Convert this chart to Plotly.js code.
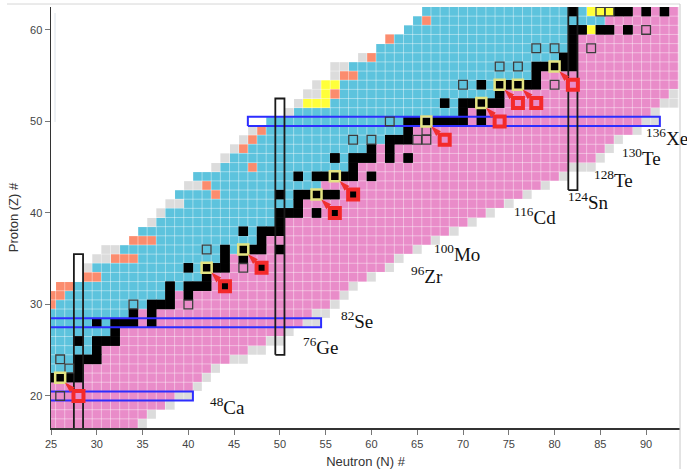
<!DOCTYPE html>
<html><head><meta charset="utf-8">
<script src="https://cdn.plot.ly/plotly-3.0.1.min.js"></script>
<style>html,body{margin:0;padding:0;background:#fff}#chart{width:687px;height:469px}</style>
</head><body><div id="chart"></div>
<script>
// ---- data ----
const protonZ   = [17,18,19,20,21,22,23,24,25,26,27,28,29,30,31,32,33,34,35,36,37,38,39,40,41,42,43,44,45,46,47,48,49,50,51,52,53,54,55,56,57,58,59,60,61,62];
const firstBlue = [25,25,25,25,25,25,25,25,25,25,25,25,25,26,27,28,31,30,35,33,37,35,37,38,40,39,43,41,44,45,47,48,49,49,52,56,57,57,59,58,61,61,63,64,65,66];
const lastBlue  = [24,24,24,24,24,24,27,27,29,29,31,31,33,35,37,39,41,41,43,45,47,47,49,49,51,51,54,53,57,57,59,61,63,63,69,69,73,73,77,77,80,81,81,81,85,83];
const lastPink  = [34,35,37,38,40,41,42,44,46,48,50,52,53,55,56,57,59,61,62,64,66,68,70,72,74,76,78,80,81,84,85,86,88,89,90,91,92,93,93,93,93,93,93,93,93,93];
const lastGrey  = [35,36,38,40,41,42,43,46,48,50,51,54,55,56,57,58,60,62,63,65,67,69,71,73,75,77,79,81,84,85,86,87,89,91,91,93,93,93,93,93,93,93,93,93,93,93];
const stableN = [[],[],[],[],[],[25,26,27,28],[28],[28,29,30],[30],[28,30,31,32],[32],[30,32,33,34,36],[34,36],[36,37,38],[38,40],[38,40,41,42,44],[42],[40,42,43,44,48],[44,46],[44,46,47,48,50],[48],[46,48,49,50],[50],[50,51,52,54,56],[52],[50,52,53,54,55,56,58],[],[52,54,55,56,57,58,60],[58],[56,58,59,60,62,64],[60,62],[62,63,64],[64],[64,65,66,67,68,69,70,72],[70,72],[68,70,71,72,73,74],[74],[72,74,75,76,77,78],[78],[78,79,80,81,82],[81,82],[82],[82],[82,83,85,86,88],[],[82,87,88,90,92]];
const greyEdge    = [[29,34],[30,35],[31,35],[31,36],[32,36],[36,39],[37,40],[38,41],[39,41],[40,43],[41,43],[43,45],[44,46],[45,47],[46,48],[47,49],[51,51],[52,52],[53,53],[54,53],[54,54],[56,55],[56,56],[57,56],[59,57]];
const orangeCells = [[25,30],[25,31],[26,31],[26,32],[27,32],[29,33],[30,33],[32,35],[33,35],[34,35],[34,37],[35,37],[36,37],[43,42],[42,43],[47,45],[46,47],[47,48],[48,49],[56,53],[57,55],[58,55],[60,57],[62,59],[66,61]];
const yellowCells = [[53,52],[54,52],[55,52],[55,53],[55,54],[56,54],[84,60],[84,62],[85,62],[86,62]];
const hollowCells = [[26,20],[27,23],[26,24],[34,30],[40,30],[46,34],[42,36],[58,48],[60,48],[65,48],[66,48],[66,49],[62,50],[70,54],[80,54],[74,56],[76,56],[78,58],[80,58],[84,58],[90,60],[85,62],[86,62]];
const bbParents   = [[28,20],[44,32],[48,34],[56,40],[58,42],[68,48],[74,50],[76,52],[78,52],[82,54]];
const bbDaughters = [[26,22],[42,34],[46,36],[54,42],[56,44],[66,50],[72,52],[74,54],[76,54],[80,56]];
const isotopeLabels = ['<sup>48</sup>Ca','<sup>76</sup>Ge','<sup>82</sup>Se','<sup>96</sup>Zr','<sup>100</sup>Mo','<sup>116</sup>Cd','<sup>124</sup>Sn','<sup>128</sup>Te','<sup>130</sup>Te','<sup>136</sup>Xe'];
const labelN = [42.15,52.3,56.45,64.1,66.6,75.4,81.2,84.1,87.2,89.8];
const labelZ = [18.9,25.5,28.35,33.25,35.6,39.7,41.3,43.7,46.15,48.25];
const magicRows = [20,28,50];
const magicRowSpan = [[25,40],[25,54],[47,91]];
const magicCols = [28,50,82];
const magicColSpan = [[16,35],[25,52],[43,63]];
const xTicks = [25,30,35,40,45,50,55,60,65,70,75,80,85,90];
const yTicks = [20,30,40,50,60];

// ---- build ----
const Ncols = []; for (let n = 25; n <= 93; n++) Ncols.push(n);
const zMatrix = protonZ.map((Z, i) => Ncols.map(N => {
  if (N >= firstBlue[i] && N <= lastBlue[i]) return 1;
  if (N > lastBlue[i] && N >= firstBlue[i] && N <= lastPink[i]) return 2;
  if (N > lastPink[i] && N <= lastGrey[i]) return 3;
  return null;
}));
function setCell(N, Z, c) { const i = protonZ.indexOf(Z), j = Ncols.indexOf(N); if (i >= 0 && j >= 0) zMatrix[i][j] = c; }
greyEdge.forEach(([N, Z]) => setCell(N, Z, 3));
orangeCells.forEach(([N, Z]) => setCell(N, Z, 4));
yellowCells.forEach(([N, Z]) => setCell(N, Z, 5));
const blackX = [], blackY = [];
protonZ.forEach((Z, i) => stableN[i].forEach(N => { setCell(N, Z, 6); blackX.push(N); blackY.push(Z); }));
bbDaughters.forEach(([N, Z]) => { setCell(N, Z, 6); });

const catColors = ['#5dc3dd', '#e98cc9', '#dcdcdc', '#fb8c6e', '#ffff3a', '#000000'];
const colorscale = [];
catColors.forEach((c, k) => { colorscale.push([k / 6, c]); colorscale.push([(k + 1) / 6, c]); });

const gx = [], gy = [];
for (let n = 25; n <= 93; n++) { gx.push(n + 0.5, n + 0.5, null); gy.push(16.5, 62.5, null); }
for (let z = 17; z <= 61; z++) { gx.push(25, 93.7, null); gy.push(z + 0.5, z + 0.5, null); }

const rbx = [], rby = [];
magicRows.forEach((Z, k) => { const [a, b] = magicRowSpan[k];
  rbx.push(a - 0.5, b + 0.5, b + 0.5, a - 0.5, a - 0.5, null); rby.push(Z - 0.5, Z - 0.5, Z + 0.5, Z + 0.5, Z - 0.5, null); });
const rkx = [], rky = [];
magicCols.forEach((N, k) => { const [a, b] = magicColSpan[k];
  rkx.push(N - 0.5, N + 0.5, N + 0.5, N - 0.5, N - 0.5, null); rky.push(a - 0.5, a - 0.5, b + 0.5, b + 0.5, a - 0.5, null); });

// decay arrows: from each parent cell corner to its daughter cell corner
const ax = [], ay = [], hx = [], hy = [];
bbParents.forEach((p, k) => { const d = bbDaughters[k];
  ax.push(p[0] - 0.6, d[0] + 0.75, null); ay.push(p[1] + 0.6, d[1] - 0.75, null);
  hx.push(d[0] + 0.52); hy.push(d[1] - 0.52); });

const traces = [
  {type: 'heatmap', x: Ncols, y: protonZ, z: zMatrix, zmin: 0.5, zmax: 6.5, colorscale: colorscale, showscale: false, hoverinfo: 'skip'},
  {type: 'scatter', mode: 'lines', x: gx, y: gy, line: {color: 'rgba(255,255,255,0.42)', width: 1}, hoverinfo: 'skip'},
  {type: 'scatter', mode: 'markers', x: blackX.concat(bbDaughters.map(d => d[0])), y: blackY.concat(bbDaughters.map(d => d[1])),
   marker: {symbol: 'square', size: 9.6, color: '#000', line: {width: 0}}, hoverinfo: 'skip'},
  {type: 'scatter', mode: 'lines', x: rbx, y: rby, line: {color: '#2d2dff', width: 2}, hoverinfo: 'skip'},
  {type: 'scatter', mode: 'lines', x: rkx, y: rky, line: {color: '#1a1a1a', width: 1.8}, hoverinfo: 'skip'},
  {type: 'scatter', mode: 'markers', x: hollowCells.map(d => d[0]), y: hollowCells.map(d => d[1]),
   marker: {symbol: 'square-open', size: 8.7, color: '#3c3c3c', line: {width: 1.3, color: '#3c3c3c'}}, hoverinfo: 'skip'},
  {type: 'scatter', mode: 'markers', x: bbDaughters.map(d => d[0]), y: bbDaughters.map(d => d[1]),
   marker: {symbol: 'square-open', size: 10, color: '#e4e482', line: {width: 2.5, color: '#e4e482'}}, hoverinfo: 'skip'},
  {type: 'scatter', mode: 'markers', x: bbParents.map(d => d[0]), y: bbParents.map(d => d[1]),
   marker: {symbol: 'square-open', size: 10, color: '#f42a2a', line: {width: 4, color: '#f42a2a'}}, hoverinfo: 'skip'},
  {type: 'scatter', mode: 'lines', x: ax, y: ay, line: {color: '#f03030', width: 2}, hoverinfo: 'skip'},
  {type: 'scatter', mode: 'markers', x: hx, y: hy, marker: {symbol: 'arrow', size: 11, angle: -45, color: '#f03030', line: {width: 0}}, hoverinfo: 'skip'}
];

const annotations = [];
isotopeLabels.forEach((t, k) => annotations.push({x: labelN[k], y: labelZ[k], xref: 'x', yref: 'y', text: t, showarrow: false,
  xanchor: 'left', yanchor: 'middle', font: {family: 'Liberation Serif, DejaVu Serif, serif', size: 19, color: '#111'}}));

const layout = {
  width: 687, height: 469, margin: {l: 51, r: 7, t: 7, b: 41},
  paper_bgcolor: '#fff', plot_bgcolor: '#fff', showlegend: false,
  xaxis: {range: [25, 93.7], tickvals: xTicks, ticks: 'outside', ticklen: 5, tickcolor: '#777', showgrid: false, zeroline: false,
    showline: true, linecolor: '#333', linewidth: 1.5, tickfont: {family: 'Liberation Sans, Arial, sans-serif', size: 11, color: '#444'},
    title: {text: 'Neutron (N) #', font: {family: 'Liberation Sans, Arial, sans-serif', size: 13, color: '#333'}, standoff: 8}, fixedrange: true},
  yaxis: {range: [16.5, 62.5], tickvals: yTicks, ticks: 'outside', ticklen: 5, tickcolor: '#777', showgrid: false, zeroline: false,
    showline: true, linecolor: '#333', linewidth: 1.5, tickfont: {family: 'Liberation Sans, Arial, sans-serif', size: 11, color: '#444'},
    title: {text: 'Proton (Z) #', font: {family: 'Liberation Sans, Arial, sans-serif', size: 13, color: '#333'}, standoff: 8}, fixedrange: true},
  annotations: annotations,
  shapes: [
    {type: 'line', xref: 'paper', yref: 'paper', x0: -0.07, x1: 1.0, y0: 1.0071, y1: 1.0071, line: {color: '#d6d6d6', width: 1}},
    {type: 'line', xref: 'paper', yref: 'paper', x0: 1.0, x1: 1.0, y0: 1.0071, y1: -0.0974, line: {color: '#c8c8c8', width: 1}},
    {type: 'line', xref: 'paper', yref: 'paper', x0: 0.0064, x1: 0.0064, y0: 0.9857, y1: 0.7268, line: {color: '#dbe3ea', width: 1}}
  ]
};
Plotly.newPlot('chart', traces, layout, {displayModeBar: false, staticPlot: true});
</script></body></html>
